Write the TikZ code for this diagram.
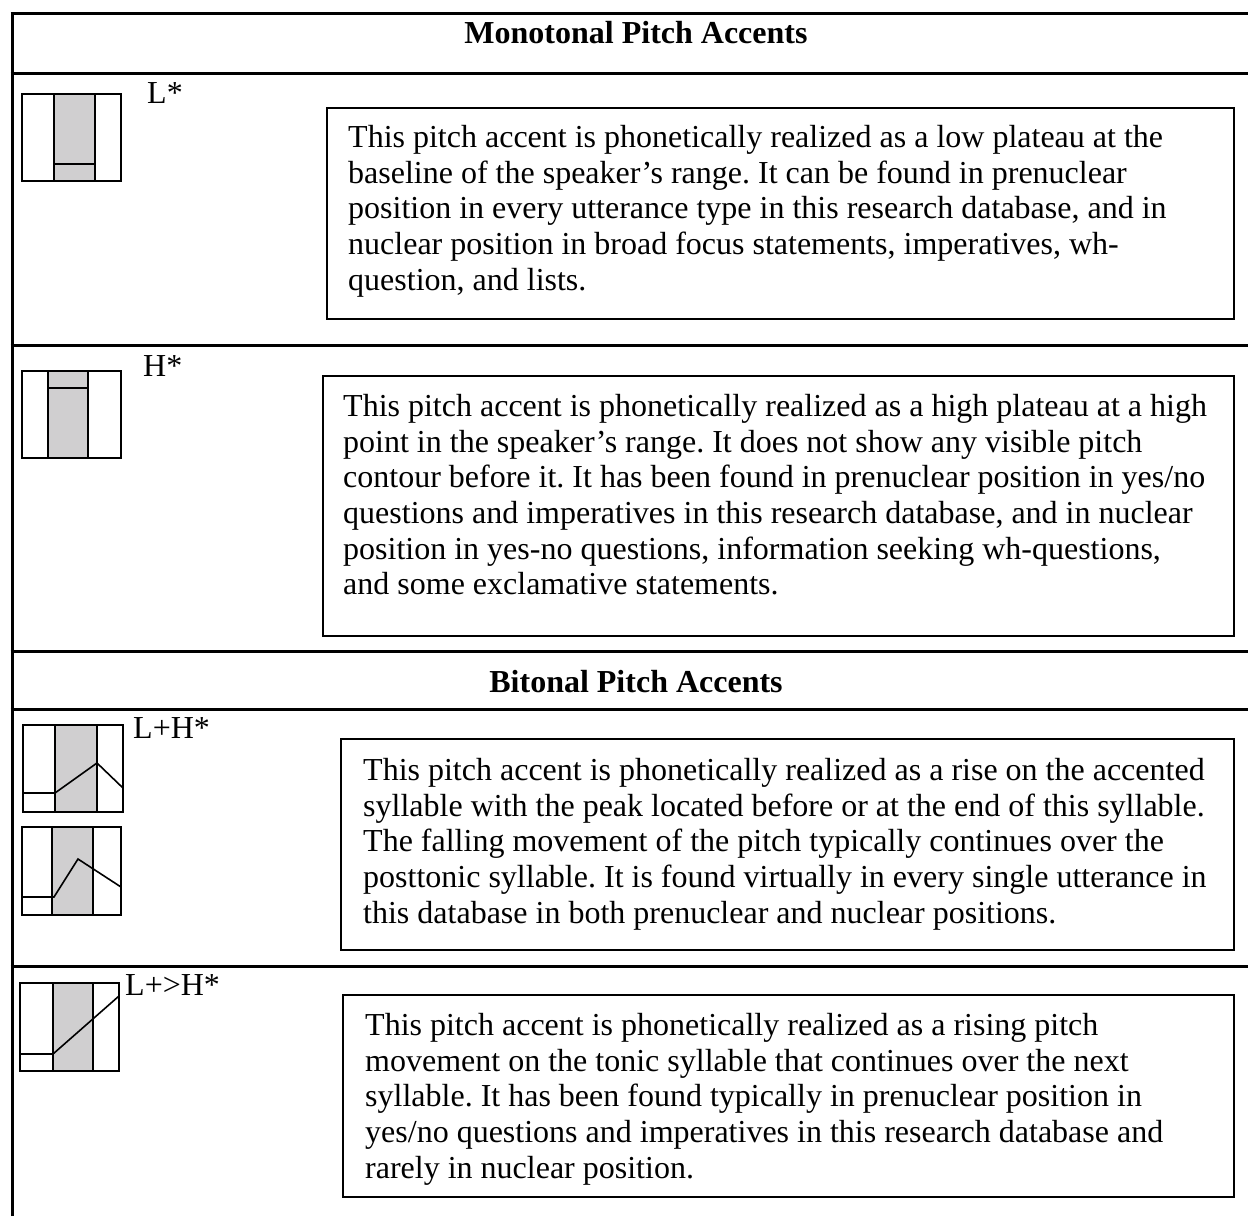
\documentclass[tikz,border=0pt]{standalone}
\usepackage{fontspec}
\setmainfont{Liberation Serif}
\definecolor{accgrey}{RGB}{208,207,208}
\frenchspacing
\begin{document}
\begin{tikzpicture}[x=1pt,y=-1pt,
  rule/.style={line width=3pt},
  descbox/.style={draw, line width=2pt},
  iconline/.style={line width=2pt},
  contour/.style={line width=1.6pt, line join=miter},
  body/.style={anchor=north west, inner sep=0pt, align=left, font=\fontsize{32}{35.7}\selectfont},
  lab/.style={anchor=base west, inner sep=0pt, font=\fontsize{32}{36}\selectfont},
  head/.style={anchor=base, inner sep=0pt, font=\fontsize{32}{36}\selectfont\bfseries}]
\useasboundingbox (0,0) rectangle (1248,1216);
\fill[white] (0,0) rectangle (1248,1216);

% table rules
\draw[rule] (12,1216) -- (12,13);
\foreach \yy in {13,73,345,651,709,966} \draw[rule] (10.5,\yy) -- (1248,\yy);

% headers
\node[head] (hmono) at (636,43) {Monotonal Pitch Accents};
\node[head] (hbi) at (636,692) {Bitonal Pitch Accents};

% ---------- L* ----------
\fill[accgrey] (54,94) rectangle (95,181);
\draw[iconline] (22,94) rectangle (121,181);
\draw[iconline] (54,94) -- (54,181) (95,94) -- (95,181) (54,164) -- (95,164);
\node[lab] (lstar) at (147,103) {L*};
\draw[descbox] (327,108) rectangle (1234,319);
\node[body] (tlstar) at (348,125) {This pitch accent is phonetically realized as a low plateau at the\\
baseline of the speaker’s range. It can be found in prenuclear\\
position in every utterance type in this research database, and in\\
nuclear position in broad focus statements, imperatives, wh-\\
question, and lists.};

% ---------- H* ----------
\fill[accgrey] (48,371) rectangle (88,458);
\draw[iconline] (22,371) rectangle (121,458);
\draw[iconline] (48,371) -- (48,458) (88,371) -- (88,458) (48,388) -- (88,388);
\node[lab] (hstar) at (143,376) {H*};
\draw[descbox] (323,376) rectangle (1234,636);
\node[body] (thstar) at (343,394) {This pitch accent is phonetically realized as a high plateau at a high\\
point in the speaker’s range. It does not show any visible pitch\\
contour before it. It has been found in prenuclear position in yes/no\\
questions and imperatives in this research database, and in nuclear\\
position in yes-no questions, information seeking wh-questions,\\
and some exclamative statements.};

% ---------- L+H* ----------
\fill[accgrey] (55,725) rectangle (97,812);
\draw[iconline] (23,725) rectangle (123,812);
\draw[iconline] (55,725) -- (55,812) (97,725) -- (97,812);
\draw[contour] (23,793) -- (55,793) -- (97,763) -- (123,788);
\fill[accgrey] (52,827) rectangle (93,915);
\draw[iconline] (22,827) rectangle (121,915);
\draw[iconline] (52,827) -- (52,915) (93,827) -- (93,915);
\draw[contour] (22,897) -- (54,897) -- (78,859) -- (121,887);
\node[lab] (lhstar) at (133,738) {L+H*};
\draw[descbox] (341,739) rectangle (1234,950);
\node[body] (tlhstar) at (363,758) {This pitch accent is phonetically realized as a rise on the accented\\
syllable with the peak located before or at the end of this syllable.\\
The falling movement of the pitch typically continues over the\\
posttonic syllable. It is found virtually in every single utterance in\\
this database in both prenuclear and nuclear positions.};

% ---------- L+>H* ----------
\fill[accgrey] (53,983) rectangle (93,1071);
\draw[iconline] (20,983) rectangle (119,1071);
\draw[iconline] (53,983) -- (53,1071) (93,983) -- (93,1071);
\draw[contour] (20,1054) -- (53,1054) -- (119,996);
\node[lab] (lghstar) at (125,995) {L+>H*};
\draw[descbox] (343,995) rectangle (1234,1197);
\node[body] (tlghstar) at (365,1013) {This pitch accent is phonetically realized as a rising pitch\\
movement on the tonic syllable that continues over the next\\
syllable. It has been found typically in prenuclear position in\\
yes/no questions and imperatives in this research database and\\
rarely in nuclear position.};
\end{tikzpicture}
\end{document}
